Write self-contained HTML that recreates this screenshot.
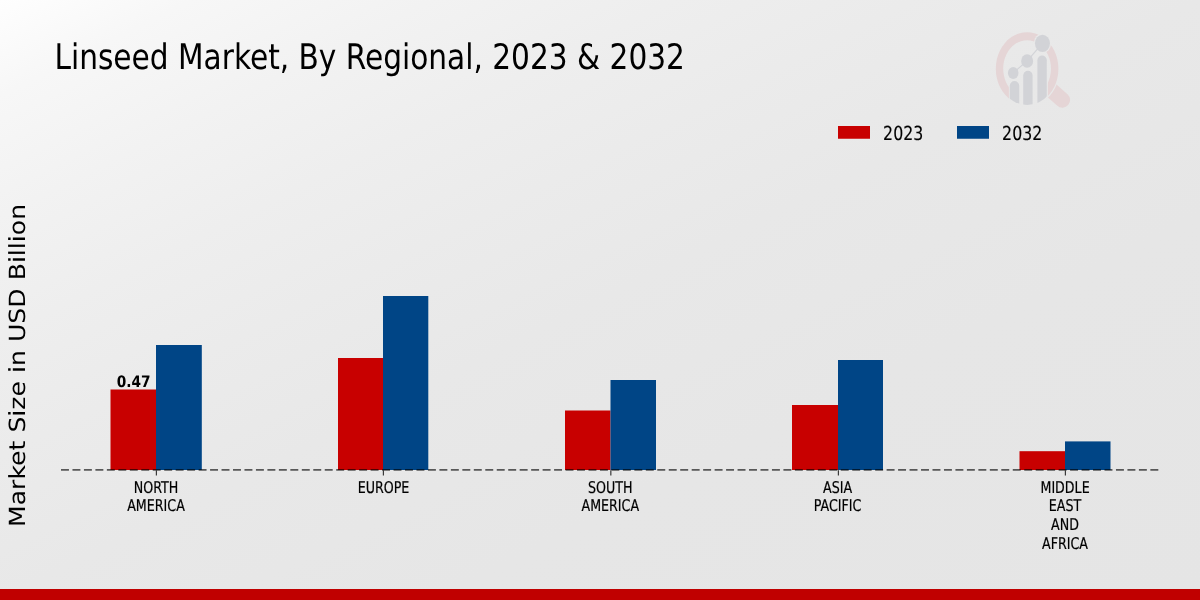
<!DOCTYPE html>
<html lang="en">
<head>
<meta charset="utf-8">
<title>Linseed Market, By Regional, 2023 &amp; 2032</title>
<style>
  html, body { margin: 0; padding: 0; }
  body { width: 1200px; height: 600px; overflow: hidden; position: relative; background: #e8e8e8; }
  #bg { position: absolute; left: 0; top: 0; width: 1200px; height: 600px;
        background: linear-gradient(to bottom right, #fefefe 0%, #f7f7f7 8%, #f2f2f2 18%, #eeeeee 28%, #ebebeb 38%, #e8e8e8 50%, #e6e6e6 68%, #e5e5e5 100%); }
  #chart { position: absolute; left: 0; top: 0; }
  #chart text.c { font-family: "DejaVu Sans Condensed", "DejaVu Sans", "Liberation Sans", sans-serif; font-stretch: condensed; }
  #chart text { font-family: "DejaVu Sans", "Liberation Sans", sans-serif; fill: #000; text-rendering: geometricPrecision; }
</style>
</head>
<body>
<div id="bg"></div>
<svg id="chart" width="1200" height="600" viewBox="0 0 1200 600">

<!-- watermark logo -->
<defs>
  <mask id="ringmask" maskUnits="userSpaceOnUse" x="980" y="20" width="110" height="100">
    <rect x="980" y="20" width="110" height="100" fill="#fff"/>
    <ellipse cx="1042.45" cy="43.3" rx="8.7" ry="9.9" fill="#000"/>
    <rect x="1008.9" y="76" width="39.0" height="40" fill="#000"/>
  </mask>
  <clipPath id="outside">
    <path clip-rule="evenodd" d="M980 20H1090V120H980Z M1027.1 30.9 a32.6 37.8 0 1 0 0.01 0Z"/>
  </clipPath>
  <clipPath id="inside">
    <ellipse cx="1027.1" cy="68.7" rx="31.1" ry="36.2"/>
  </clipPath>
</defs>
<g id="logo">
  <path mask="url(#ringmask)" fill="#e5d5d6" fill-rule="evenodd"
        d="M1027.1 32.2 a31.3 36.5 0 1 0 0.01 0Z M1027.1 40.2 a23.9 28.5 0 1 1 -0.01 0Z"/>
  <line clip-path="url(#outside)" x1="1027.1" y1="68.7" x2="1062.4" y2="100.0" stroke="#e5d5d6" stroke-width="15.4" stroke-linecap="round"/>
  <g fill="#d2d3d7" clip-path="url(#inside)">
    <path d="M1009.8 110 V85.8 a4.7 4.7 0 0 1 9.4 0 V110Z"/>
    <path d="M1023.2 110 V75.5 a4.7 4.7 0 0 1 9.4 0 V110Z"/>
    <path d="M1037.4 110 V60.2 a4.7 4.7 0 0 1 9.4 0 V110Z"/>
  </g>
  <g stroke="#d2d3d7" stroke-width="1.2" fill="none">
    <line x1="1013.2" y1="72.9" x2="1027.15" y2="60.9"/>
    <line x1="1027.15" y1="60.9" x2="1042.45" y2="43.3"/>
  </g>
  <g fill="#d2d3d7">
    <ellipse cx="1013.2" cy="72.9" rx="5.3" ry="6.0"/>
    <ellipse cx="1027.15" cy="60.9" rx="6.0" ry="6.75"/>
    <ellipse cx="1042.45" cy="43.3" rx="7.5" ry="8.6"/>
  </g>
</g>

<!-- title / axis label -->
<text class="c" transform="translate(54.4,68.85) scale(0.9358,1)" font-size="35.2">Linseed Market, By Regional, 2023 &amp; 2032</text>
<text transform="translate(25.35,527.0) rotate(-90) scale(1,0.885)" font-size="25.15">Market Size in USD Billion</text>
<!-- legend -->
<rect x="838" y="126" width="32" height="12.75" fill="#c80000"/>
<text class="c" transform="translate(883.1,139.75) scale(0.909,1)" font-size="19.3" stroke="#000" stroke-width="0.15">2023</text>
<rect x="957" y="126" width="32" height="12.75" fill="#004586"/>
<text class="c" transform="translate(1002.1,139.75) scale(0.909,1)" font-size="19.3" stroke="#000" stroke-width="0.15">2032</text>
<!-- bars -->
<rect x="110.5" y="389.5" width="45.5" height="80.5" fill="#c80000"/>
<rect x="156" y="345" width="45.8" height="125" fill="#004586"/>
<rect x="338" y="358" width="45" height="112" fill="#c80000"/>
<rect x="383" y="296" width="45.3" height="174" fill="#004586"/>
<rect x="565" y="410.5" width="45.5" height="59.5" fill="#c80000"/>
<rect x="610.5" y="380" width="45.5" height="90" fill="#004586"/>
<rect x="792" y="405" width="46" height="65" fill="#c80000"/>
<rect x="838" y="360" width="45" height="110" fill="#004586"/>
<rect x="1019.5" y="451.2" width="45.5" height="18.8" fill="#c80000"/>
<rect x="1065" y="441.4" width="45.5" height="28.6" fill="#004586"/>
<text transform="translate(116.8,387.0) scale(0.8635,1)" font-size="15.9" font-weight="bold">0.47</text>
<!-- zero line and ticks -->
<line x1="61" y1="469.95" x2="1159.6" y2="469.95" stroke="#000" stroke-opacity="0.62" stroke-width="1.7" stroke-dasharray="7.95 3.517"/>
<line x1="156.35" y1="470.3" x2="156.35" y2="475.4" stroke="#222" stroke-width="1.05"/>
<line x1="383.35" y1="470.3" x2="383.35" y2="475.4" stroke="#222" stroke-width="1.05"/>
<line x1="610.85" y1="470.3" x2="610.85" y2="475.4" stroke="#222" stroke-width="1.05"/>
<line x1="838.35" y1="470.3" x2="838.35" y2="475.4" stroke="#222" stroke-width="1.05"/>
<line x1="1065.35" y1="470.3" x2="1065.35" y2="475.4" stroke="#222" stroke-width="1.05"/>
<!-- x tick labels -->
<text class="c" transform="translate(156.0,493.0) scale(0.869,1)" font-size="16.2" text-anchor="middle" stroke="#000" stroke-width="0.2">NORTH</text>
<text class="c" transform="translate(156.0,511.0) scale(0.869,1)" font-size="16.2" text-anchor="middle" stroke="#000" stroke-width="0.2">AMERICA</text>
<text class="c" transform="translate(383.5,493.0) scale(0.869,1)" font-size="16.2" text-anchor="middle" stroke="#000" stroke-width="0.2">EUROPE</text>
<text class="c" transform="translate(610.3,493.0) scale(0.869,1)" font-size="16.2" text-anchor="middle" stroke="#000" stroke-width="0.2">SOUTH</text>
<text class="c" transform="translate(610.3,511.0) scale(0.869,1)" font-size="16.2" text-anchor="middle" stroke="#000" stroke-width="0.2">AMERICA</text>
<text class="c" transform="translate(837.65,493.0) scale(0.869,1)" font-size="16.2" text-anchor="middle" stroke="#000" stroke-width="0.2">ASIA</text>
<text class="c" transform="translate(837.65,511.0) scale(0.869,1)" font-size="16.2" text-anchor="middle" stroke="#000" stroke-width="0.2">PACIFIC</text>
<text class="c" transform="translate(1065.05,493.0) scale(0.869,1)" font-size="16.2" text-anchor="middle" stroke="#000" stroke-width="0.2">MIDDLE</text>
<text class="c" transform="translate(1065.05,511.0) scale(0.869,1)" font-size="16.2" text-anchor="middle" stroke="#000" stroke-width="0.2">EAST</text>
<text class="c" transform="translate(1065.05,529.6) scale(0.869,1)" font-size="16.2" text-anchor="middle" stroke="#000" stroke-width="0.2">AND</text>
<text class="c" transform="translate(1065.05,548.8) scale(0.869,1)" font-size="16.2" text-anchor="middle" stroke="#000" stroke-width="0.2">AFRICA</text>
<!-- footer band -->
<rect x="0" y="589" width="1200" height="11" fill="#c00000"/>
</svg>
</body>
</html>
